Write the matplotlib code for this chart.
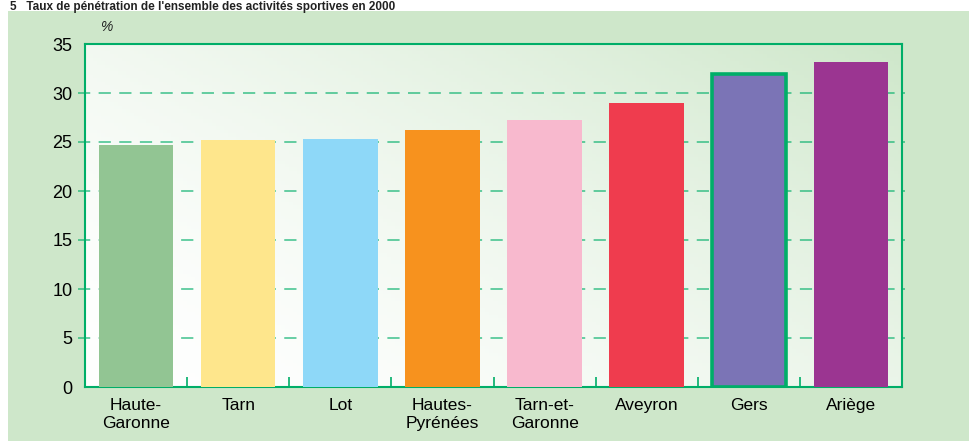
import matplotlib
matplotlib.use("Agg")
import matplotlib.pyplot as plt
import numpy as np
from matplotlib.patches import Rectangle

categories = ["Haute-\nGaronne", "Tarn", "Lot", "Hautes-\nPyrénées", "Tarn-et-\nGaronne",
              "Aveyron", "Gers", "Ariège"]
values = [24.7, 25.2, 25.3, 26.2, 27.2, 29.0, 31.9, 33.2]
colors = ["#92C593", "#FEE68C", "#8ED8F8", "#F7921E", "#F8B9CE", "#EF3C4E", "#7B74B6", "#9B3591"]
yticks = [0, 5, 10, 15, 20, 25, 30, 35]
title = "5   Taux de pénétration de l'ensemble des activités sportives en 2000"

plt.rcParams['font.family'] = ['Liberation Sans', 'DejaVu Sans']
W, H = 969, 441
fig = plt.figure(figsize=(W / 100, H / 100), dpi=100)
fig.patch.set_facecolor("white")

# green panel
panel = Rectangle((8 / W, 0), 1 - 8 / W, 1 - 11 / H, transform=fig.transFigure,
                  facecolor="#CEE7CA", edgecolor="none", zorder=-5)
fig.add_artist(panel)
fig.text(10 / W, 1 - 1 / H, title, fontsize=8.5, fontweight="bold", va="top", ha="left",
         color="#222222", zorder=5)

left, right, top, bottom = 85, 902, 44, 387
ax = fig.add_axes([left / W, 1 - bottom / H, (right - left) / W, (bottom - top) / H])
ax.set_zorder(2)

n = len(categories)
x = np.arange(n)
ax.set_xlim(-0.5, n - 0.5)
ax.set_ylim(0, 35)

# gradient background
gx = np.linspace(0, 1, 200)
gy = np.linspace(0, 1, 100)
GX, GY = np.meshgrid(gx, gy)
t = np.clip((GX * 0.8 + GY * 0.6) / 1.4, 0, 1) ** 1.6
c0 = np.array([1.0, 1.0, 1.0])
c1 = np.array([0xCE, 0xE7, 0xCA]) / 255
img = c0[None, None, :] * (1 - t[..., None]) + c1[None, None, :] * t[..., None]
ax.imshow(img, extent=(-0.5, n - 0.5, 0, 35), origin="lower", aspect="auto", zorder=0)

green = "#00AE68"
for i, (v, c) in enumerate(zip(values, colors)):
    if categories[i] == "Gers":
        ax.bar(i, v, width=0.73, color=c, edgecolor=green, linewidth=2.6, zorder=3)
    else:
        ax.bar(i, v, width=0.73, color=c, edgecolor="none", zorder=3)

for yv in yticks[1:-1]:
    ax.plot([-0.57, n - 0.5 + 0.03], [yv, yv], color=green, lw=1.1, ls=(0, (8, 5.5)),
            alpha=0.75, clip_on=False, zorder=2)

for s in ax.spines.values():
    s.set_color(green)
    s.set_linewidth(1.5)

ax.set_yticks(yticks)
ax.set_yticklabels([str(v) for v in yticks], fontsize=13)
ax.tick_params(axis="y", length=0, pad=9)
ax.set_xticks(x)
ax.set_xticklabels(categories, fontsize=12.5, linespacing=1.25)
ax.tick_params(axis="x", length=0, pad=8)
ax.set_xticks(np.arange(n - 1) + 0.5, minor=True)
ax.tick_params(axis="x", which="minor", direction="in", length=7, color=green, width=1.2)

fig.text(100 / W, 1 - 31 / H, "%", fontsize=10, style="italic", color="#222222")

fig.savefig("out.png", dpi=100)
